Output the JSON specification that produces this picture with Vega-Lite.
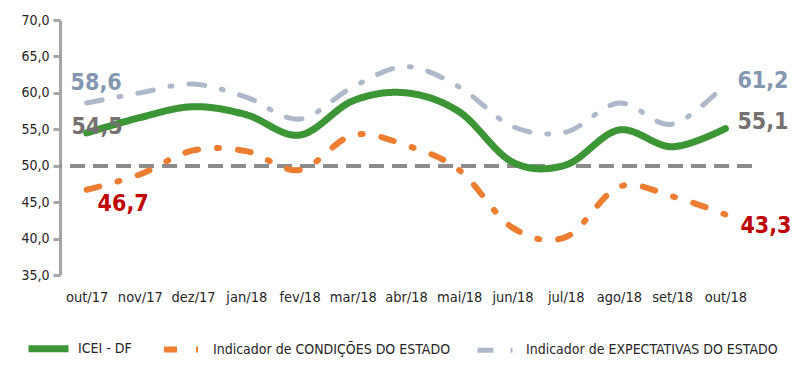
{
  "$schema": "https://vega.github.io/schema/vega-lite/v6.json",
  "autosize": "none",
  "width": 692,
  "height": 255,
  "padding": {"left": 60, "top": 20, "right": 48, "bottom": 99},
  "background": "white",
  "config": {
    "locale": {"number": {"decimal": ",", "thousands": ".", "grouping": [3], "currency": ["R$", ""]}},
    "font": "DejaVu Sans Condensed, Roboto Condensed, Liberation Sans Narrow, sans-serif",
    "view": {"stroke": null}
  },
  "data": {
    "values": [
      {"mes": "out/17", "serie": "ICEI  - DF", "valor": 54.5},
      {"mes": "nov/17", "serie": "ICEI  - DF", "valor": 56.6},
      {"mes": "dez/17", "serie": "ICEI  - DF", "valor": 58.1},
      {"mes": "jan/18", "serie": "ICEI  - DF", "valor": 57.0},
      {"mes": "fev/18", "serie": "ICEI  - DF", "valor": 54.2},
      {"mes": "mar/18", "serie": "ICEI  - DF", "valor": 58.9},
      {"mes": "abr/18", "serie": "ICEI  - DF", "valor": 60.0},
      {"mes": "mai/18", "serie": "ICEI  - DF", "valor": 57.4},
      {"mes": "jun/18", "serie": "ICEI  - DF", "valor": 50.5},
      {"mes": "jul/18", "serie": "ICEI  - DF", "valor": 50.1},
      {"mes": "ago/18", "serie": "ICEI  - DF", "valor": 54.9},
      {"mes": "set/18", "serie": "ICEI  - DF", "valor": 52.6},
      {"mes": "out/18", "serie": "ICEI  - DF", "valor": 55.1},
      {"mes": "out/17", "serie": "Indicador de CONDIÇÕES DO ESTADO", "valor": 46.7},
      {"mes": "nov/17", "serie": "Indicador de CONDIÇÕES DO ESTADO", "valor": 48.8},
      {"mes": "dez/17", "serie": "Indicador de CONDIÇÕES DO ESTADO", "valor": 52.1},
      {"mes": "jan/18", "serie": "Indicador de CONDIÇÕES DO ESTADO", "valor": 52.0},
      {"mes": "fev/18", "serie": "Indicador de CONDIÇÕES DO ESTADO", "valor": 49.4},
      {"mes": "mar/18", "serie": "Indicador de CONDIÇÕES DO ESTADO", "valor": 54.2},
      {"mes": "abr/18", "serie": "Indicador de CONDIÇÕES DO ESTADO", "valor": 52.8},
      {"mes": "mai/18", "serie": "Indicador de CONDIÇÕES DO ESTADO", "valor": 49.4},
      {"mes": "jun/18", "serie": "Indicador de CONDIÇÕES DO ESTADO", "valor": 41.5},
      {"mes": "jul/18", "serie": "Indicador de CONDIÇÕES DO ESTADO", "valor": 40.2},
      {"mes": "ago/18", "serie": "Indicador de CONDIÇÕES DO ESTADO", "valor": 47.1},
      {"mes": "set/18", "serie": "Indicador de CONDIÇÕES DO ESTADO", "valor": 45.8},
      {"mes": "out/18", "serie": "Indicador de CONDIÇÕES DO ESTADO", "valor": 43.3},
      {"mes": "out/17", "serie": "Indicador de EXPECTATIVAS  DO ESTADO", "valor": 58.6},
      {"mes": "nov/17", "serie": "Indicador de EXPECTATIVAS  DO ESTADO", "valor": 60.0},
      {"mes": "dez/17", "serie": "Indicador de EXPECTATIVAS  DO ESTADO", "valor": 61.2},
      {"mes": "jan/18", "serie": "Indicador de EXPECTATIVAS  DO ESTADO", "valor": 59.4},
      {"mes": "fev/18", "serie": "Indicador de EXPECTATIVAS  DO ESTADO", "valor": 56.4},
      {"mes": "mar/18", "serie": "Indicador de EXPECTATIVAS  DO ESTADO", "valor": 60.8},
      {"mes": "abr/18", "serie": "Indicador de EXPECTATIVAS  DO ESTADO", "valor": 63.6},
      {"mes": "mai/18", "serie": "Indicador de EXPECTATIVAS  DO ESTADO", "valor": 60.8},
      {"mes": "jun/18", "serie": "Indicador de EXPECTATIVAS  DO ESTADO", "valor": 55.4},
      {"mes": "jul/18", "serie": "Indicador de EXPECTATIVAS  DO ESTADO", "valor": 54.6},
      {"mes": "ago/18", "serie": "Indicador de EXPECTATIVAS  DO ESTADO", "valor": 58.6},
      {"mes": "set/18", "serie": "Indicador de EXPECTATIVAS  DO ESTADO", "valor": 55.7},
      {"mes": "out/18", "serie": "Indicador de EXPECTATIVAS  DO ESTADO", "valor": 61.2}
    ]
  },
  "encoding": {
    "x": {
      "field": "mes", "type": "ordinal",
      "sort": ["out/17","nov/17","dez/17","jan/18","fev/18","mar/18","abr/18","mai/18","jun/18","jul/18","ago/18","set/18","out/18"],
      "scale": {"type": "point", "padding": 0.5},
      "axis": {"title": null, "domain": false, "ticks": false, "labelAngle": 0, "labelFontSize": 14.5, "labelColor": "#262626", "labelPadding": 15}
    },
    "y": {
      "field": "valor", "type": "quantitative",
      "scale": {"domain": [35, 70], "nice": false, "zero": false},
      "axis": {"title": null, "values": [35,40,45,50,55,60,65,70], "format": ".1f", "grid": false, "domainColor": "#a6a6a6", "domainWidth": 3, "tickColor": "#a6a6a6", "tickWidth": 3, "tickSize": 7, "labelFontSize": 14, "labelColor": "#262626", "labelPadding": 4}
    }
  },
  "layer": [
    {
      "mark": {"type": "rule", "color": "#8c8c8c", "strokeWidth": 3, "strokeDash": [15, 8]},
      "encoding": {"y": {"datum": 50}, "x": null}
    },
    {
      "mark": {"type": "line", "interpolate": "cardinal", "tension": 0, "strokeCap": "round", "strokeJoin": "round"},
      "encoding": {
        "color": {
          "field": "serie", "type": "nominal",
          "scale": {"domain": ["ICEI  - DF", "Indicador de CONDIÇÕES DO ESTADO", "Indicador de EXPECTATIVAS  DO ESTADO"], "range": ["#3d9636", "#ed7d31", "#adb9ca"]},
          "legend": {"title": null, "orient": "none", "legendX": -35, "legendY": 305, "direction": "horizontal", "symbolType": "stroke", "symbolSize": 1600, "labelFontSize": 14, "labelColor": "#262626", "labelLimit": 400, "columnPadding": 16, "labelOffset": 6}
        },
        "strokeDash": {
          "field": "serie", "type": "nominal",
          "scale": {"domain": ["ICEI  - DF", "Indicador de CONDIÇÕES DO ESTADO", "Indicador de EXPECTATIVAS  DO ESTADO"], "range": [[1, 0], [13, 19, 2, 19], [16, 17, 2, 17]]},
          "legend": null
        },
        "strokeWidth": {
          "field": "serie", "type": "nominal",
          "scale": {"domain": ["ICEI  - DF", "Indicador de CONDIÇÕES DO ESTADO", "Indicador de EXPECTATIVAS  DO ESTADO"], "range": [7, 5, 5]},
          "legend": null
        },
        "order": {"field": "serie", "sort": "descending"}
      }
    },
    {
      "transform": [{"filter": "datum.mes == 'out/17' && datum.serie == 'Indicador de EXPECTATIVAS  DO ESTADO'"}],
      "mark": {"type": "text", "align": "left", "baseline": "alphabetic", "dx": -16, "dy": -13, "fontSize": 23, "fontWeight": "bold", "color": "#8497b0"},
      "encoding": {"text": {"field": "valor", "format": ".1f"}}
    },
    {
      "transform": [{"filter": "datum.mes == 'out/17' && datum.serie == 'ICEI  - DF'"}],
      "mark": {"type": "text", "align": "left", "baseline": "alphabetic", "dx": -15, "dy": 1, "fontSize": 23, "fontWeight": "bold", "color": "#767171"},
      "encoding": {"text": {"field": "valor", "format": ".1f"}}
    },
    {
      "transform": [{"filter": "datum.mes == 'out/17' && datum.serie == 'Indicador de CONDIÇÕES DO ESTADO'"}],
      "mark": {"type": "text", "align": "left", "baseline": "alphabetic", "dx": 11, "dy": 21, "fontSize": 23, "fontWeight": "bold", "color": "#c00000"},
      "encoding": {"text": {"field": "valor", "format": ".1f"}}
    },
    {
      "transform": [{"filter": "datum.mes == 'out/18' && datum.serie == 'Indicador de EXPECTATIVAS  DO ESTADO'"}],
      "mark": {"type": "text", "align": "left", "baseline": "alphabetic", "dx": 12, "dy": 4, "fontSize": 23, "fontWeight": "bold", "color": "#8497b0"},
      "encoding": {"text": {"field": "valor", "format": ".1f"}}
    },
    {
      "transform": [{"filter": "datum.mes == 'out/18' && datum.serie == 'ICEI  - DF'"}],
      "mark": {"type": "text", "align": "left", "baseline": "alphabetic", "dx": 12, "dy": 0, "fontSize": 23, "fontWeight": "bold", "color": "#767171"},
      "encoding": {"text": {"field": "valor", "format": ".1f"}}
    },
    {
      "transform": [{"filter": "datum.mes == 'out/18' && datum.serie == 'Indicador de CONDIÇÕES DO ESTADO'"}],
      "mark": {"type": "text", "align": "left", "baseline": "alphabetic", "dx": 15, "dy": 18, "fontSize": 23, "fontWeight": "bold", "color": "#c00000"},
      "encoding": {"text": {"field": "valor", "format": ".1f"}}
    }
  ]
}
